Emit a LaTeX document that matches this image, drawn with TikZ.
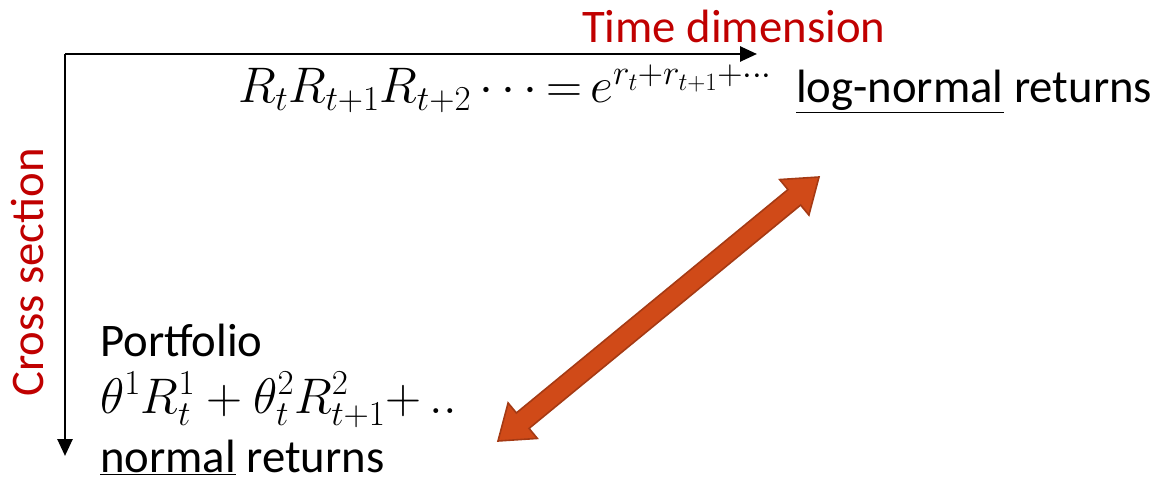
\RequirePackage{fix-cm}
\documentclass[tikz,border=0pt]{standalone}
\usepackage{fontspec}
\setmainfont{Carlito}
\usepackage{tikz}
\usetikzlibrary{positioning, arrows.meta, calc}

\definecolor{titlered}{RGB}{192,0,0}
\definecolor{fatfill}{RGB}{208,74,24}
\definecolor{fatline}{RGB}{165,58,20}

\begin{document}
\begin{tikzpicture}[x=1pt, y=1pt,
	txt/.style={inner sep=0pt, anchor=base west, font=\fontsize{46.7}{56}\selectfont},
	redtxt/.style={txt, text=titlered},
	mathtxt/.style={inner sep=0pt, anchor=base west, font=\fontsize{50}{58}\selectfont},
	axisarr/.style={line width=2.6pt, -{Triangle[length=17pt, width=15pt]}},
	fatarr/.style={fill=fatfill, draw=fatline, line width=1.6pt, line join=miter}]
	\useasboundingbox (0,0) rectangle (1158,482);
	% axes
	\coordinate (corner) at (65,428);
	\coordinate (timeend) at (757,428);
	\coordinate (crossend) at (65,26);
	\draw[axisarr] (corner) -- (timeend);
	\draw[axisarr] (corner) -- (crossend);
	\node[redtxt] (timelab) at (582,439) {Time dimension};
	\node[redtxt, rotate=90] (crosslab) at (43,85) {Cross section};
	% time series side
	\node[mathtxt] (prodret) at (238,379) {$R_tR_{t+1}R_{t+2}\cdots{=}\,e^{r_t+r_{t+1}+\cdots}$};
	\node[txt] (lognorm) at (796,379) {\underline{log-normal} returns};
	% cross section side
	\node[txt] (portf) at (100,125) {Portfolio};
	\node[mathtxt] (portret) at (100,69) {$\theta^1R^1_t+\theta^2_tR^2_{t+1}{+}\,..$};
	\node[txt] (norm) at (100,10) {\underline{normal} returns};
	% link between the two
	\coordinate (lo) at (498,41);
	\coordinate (hi) at (819,305);
	\draw[fatarr] (lo)
		-- ($(lo)!32pt!(hi)!23pt!90:(hi)$) -- ($(lo)!32pt!(hi)!10pt!90:(hi)$)
		-- ($(hi)!32pt!(lo)!10pt!-90:(lo)$) -- ($(hi)!32pt!(lo)!23pt!-90:(lo)$)
		-- (hi)
		-- ($(hi)!32pt!(lo)!23pt!90:(lo)$) -- ($(hi)!32pt!(lo)!10pt!90:(lo)$)
		-- ($(lo)!32pt!(hi)!10pt!-90:(hi)$) -- ($(lo)!32pt!(hi)!23pt!-90:(hi)$)
		-- cycle;
\end{tikzpicture}
\end{document}
